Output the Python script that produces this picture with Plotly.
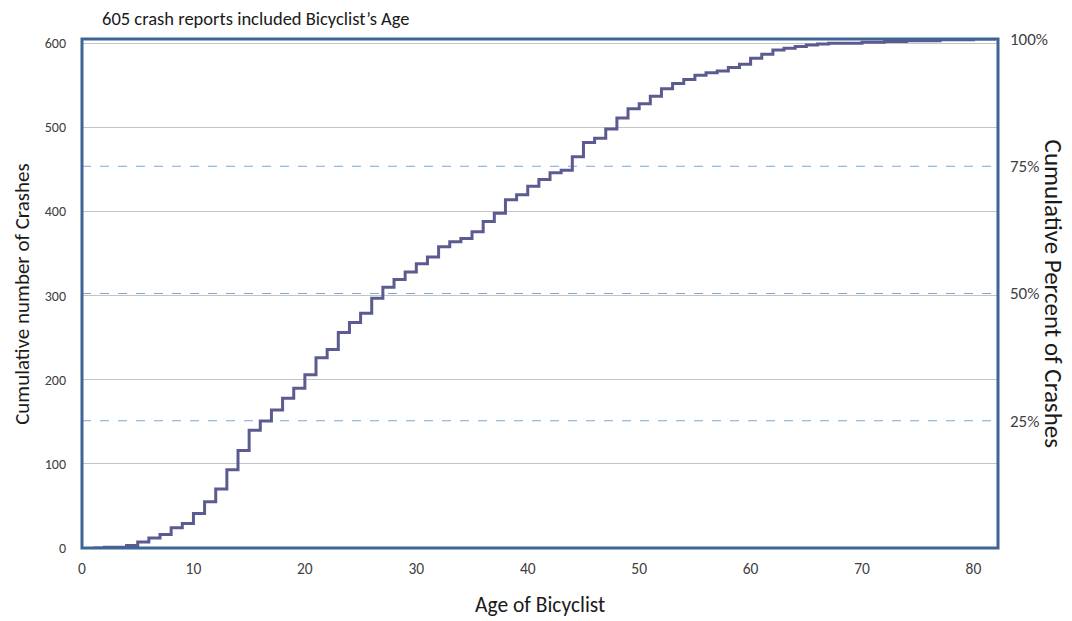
import plotly.graph_objects as go

# Data
ages = list(range(1, 83))
cumulative_crashes = [
    0, 1, 1, 3, 7, 12, 16, 24, 29, 41,          # 1-10
    55, 70, 93, 116, 140, 151, 164, 178, 190, 206,  # 11-20
    226, 236, 256, 268, 279, 297, 310, 319, 328, 338,  # 21-30
    346, 358, 364, 368, 376, 388, 398, 414, 420, 430,  # 31-40
    438, 446, 449, 465, 482, 487, 498, 511, 522, 528,  # 41-50
    537, 546, 552, 557, 562, 565, 567, 571, 575, 582,  # 51-60
    587, 592, 594, 596, 598, 599, 600, 600, 600, 601,  # 61-70
    601, 602, 602, 603, 603, 603, 604, 604, 604, 605,  # 71-80
    605, 605,                                        # 81-82
]
total_reports = 605
percent_levels = [25, 50, 75]
right_tick_vals = [25, 50, 75, 100]
right_tick_text = ["25%", "50%", "75%", "100%"]
left_tick_vals = [0, 100, 200, 300, 400, 500, 600]
x_tick_vals = [0, 10, 20, 30, 40, 50, 60, 70, 80]

title_text = "605 crash reports included Bicyclist\u2019s Age"
font_family = "Carlito, Lato, 'Open Sans', sans-serif"
tick_color = "#404040"
text_color = "#1a1a1a"

fig = go.Figure()
fig.add_trace(go.Scatter(
    x=ages, y=cumulative_crashes, mode="lines",
    line=dict(color="#5b5b91", width=3, shape="hv"),
    showlegend=False, hoverinfo="x+y",
))
# invisible trace to activate the secondary axis
fig.add_trace(go.Scatter(x=[0], y=[0], yaxis="y2", mode="markers",
                         marker=dict(opacity=0), showlegend=False, hoverinfo="skip"))

shapes = []
for p in percent_levels:
    shapes.append(dict(type="line", xref="paper", x0=0, x1=1, yref="y",
                       y0=total_reports * p / 100, y1=total_reports * p / 100,
                       line=dict(color="#7ea6d8", width=1.2, dash="dash"), layer="below"))
shapes.append(dict(type="rect", xref="paper", yref="paper", x0=0, x1=1, y0=0, y1=1,
                   line=dict(color="#3f6596", width=3), layer="above"))

fig.update_layout(
    width=1064, height=613,
    margin=dict(l=74, r=74, t=31, b=73),
    paper_bgcolor="white", plot_bgcolor="white",
    font=dict(family=font_family, color=tick_color, size=14),
    xaxis=dict(range=[0, 82.2], tickvals=x_tick_vals, showgrid=False, zeroline=False,
               showline=False, ticks="", ticklabelstandoff=9,
               tickfont=dict(size=15.5, color=tick_color)),
    yaxis=dict(range=[0, total_reports], tickvals=left_tick_vals, showgrid=True,
               gridcolor="#c4c4c4", gridwidth=1.3, zeroline=False, showline=False,
               ticks="", ticklabelstandoff=15, tickfont=dict(size=14, color=tick_color)),
    yaxis2=dict(range=[0, 100], overlaying="y", side="right", tickvals=right_tick_vals,
                ticktext=right_tick_text, showgrid=False, zeroline=False, showline=False,
                ticks="", ticklabelstandoff=11, tickfont=dict(size=17, color=tick_color)),
    shapes=shapes,
    annotations=[
        dict(text=title_text, xref="paper", yref="paper", x=0.0197, y=1.041,
             xanchor="left", yanchor="middle", showarrow=False,
             font=dict(size=18.5, color=text_color)),
        dict(text="Cumulative number of Crashes", xref="paper", yref="paper",
             x=-0.0662, y=0.5, xanchor="center", yanchor="middle", textangle=-90,
             showarrow=False, font=dict(size=21, color=text_color)),
        dict(text="Cumulative Percent of Crashes", xref="paper", yref="paper",
             x=1.061, y=0.5, xanchor="center", yanchor="middle", textangle=90,
             showarrow=False, font=dict(size=25, color=text_color)),
        dict(text="Age of Bicyclist", xref="paper", yref="paper",
             x=0.5, y=-0.112, xanchor="center", yanchor="middle",
             showarrow=False, font=dict(size=21.5, color=text_color)),
    ],
)

fig.write_html("out.html")
